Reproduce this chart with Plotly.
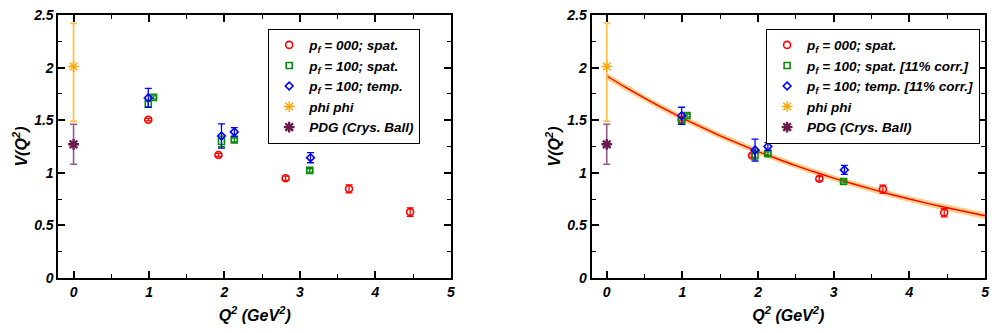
import plotly.graph_objects as go

# ---------------- data: left panel ----------------
red_x = [0.99, 1.92, 2.81, 3.65, 4.46]
red_y = [1.505, 1.170, 0.948, 0.848, 0.627]
red_e = [0.012, 0.015, 0.020, 0.038, 0.040]

grn_x = [0.99, 1.06, 1.96, 2.13, 3.13]
grn_y = [1.654, 1.717, 1.298, 1.313, 1.023]
grn_e = [0.030, 0.015, 0.050, 0.018, 0.016]

blu_x = [0.99, 1.96, 2.13, 3.14]
blu_y = [1.712, 1.350, 1.389, 1.144]
blu_e = [0.090, 0.115, 0.040, 0.048]

phi_x = [0.0]
phi_y = [2.01]
phi_ep = [0.41]
phi_em = [0.52]

pdg_x = [0.0]
pdg_y = [1.271]
pdg_e = [0.19]

# ---------------- data: right panel (corrected) ----------------
red2_x = [0.99, 1.92, 2.81, 3.65, 4.46]
red2_y = [1.505, 1.165, 0.944, 0.845, 0.622]
red2_e = [0.012, 0.015, 0.020, 0.038, 0.040]

grn2_x = [0.99, 1.06, 1.96, 2.13, 3.13]
grn2_y = [1.490, 1.545, 1.169, 1.183, 0.918]
grn2_e = [0.027, 0.014, 0.045, 0.016, 0.014]

blu2_x = [0.99, 1.96, 2.13, 3.14]
blu2_y = [1.542, 1.216, 1.251, 1.028]
blu2_e = [0.081, 0.104, 0.036, 0.043]

# fit curve
fit_x = [0.0, 0.25, 0.5, 0.75, 1.0, 1.25, 1.5, 1.75, 2.0, 2.25, 2.5, 2.75,
         3.0, 3.25, 3.5, 3.75, 4.0, 4.25, 4.5, 4.75, 5.0]
fit_y = [1.920, 1.812, 1.710, 1.612, 1.520, 1.435, 1.352, 1.276, 1.202, 1.134, 1.069, 1.008,
         0.950, 0.896, 0.845, 0.797, 0.751, 0.708, 0.668, 0.630, 0.592]
fit_hi = [1.952, 1.843, 1.740, 1.642, 1.549, 1.463, 1.380, 1.304, 1.230, 1.162, 1.097, 1.036,
          0.978, 0.924, 0.873, 0.826, 0.780, 0.738, 0.698, 0.660, 0.623]
fit_lo = [1.888, 1.781, 1.680, 1.582, 1.491, 1.407, 1.324, 1.248, 1.174, 1.106, 1.041, 0.980,
          0.922, 0.868, 0.817, 0.768, 0.722, 0.678, 0.638, 0.600, 0.561]

x_ticks = [0, 1, 2, 3, 4, 5]
y_ticks = [0, 0.5, 1, 1.5, 2, 2.5]
y_tick_text = ["0", "0.5", "1", "1.5", "2", "2.5"]

labels_left = ["p<sub>f</sub> = 000; spat.", "p<sub>f</sub> = 100; spat.",
               "p<sub>f</sub> = 100; temp.", "phi phi", "PDG (Crys. Ball)"]
labels_right = ["p<sub>f</sub> = 000; spat.", "p<sub>f</sub> = 100; spat. [11% corr.]",
                "p<sub>f</sub> = 100; temp. [11% corr.]", "phi phi", "PDG (Crys. Ball)"]

RED = "#ff0000"
GRN = "#0a8a0a"
BLU = "#0000ff"
ORG = "#ffa500"
PUR = "#6a1a4e"

fig = go.Figure()


def add_points(x, y, e, name, color, symbol, size, lw, xa, ya, legend, ecolor=None,
               em=None, ethick=1.3):
    err = dict(type="data", array=e, color=ecolor or color, thickness=ethick, width=3.5)
    if em is not None:
        err["arrayminus"] = em
        err["symmetric"] = False
    fig.add_trace(go.Scatter(
        x=x, y=y, mode="markers", name=name,
        marker=dict(symbol=symbol, size=size, color=color,
                    line=dict(color=color, width=lw)),
        error_y=err, xaxis=xa, yaxis=ya, legend=legend))


# right panel band + fit (drawn first so that points are on top)
fig.add_trace(go.Scatter(x=fit_x, y=fit_hi, mode="lines", line=dict(width=0, shape="spline"),
                         showlegend=False, hoverinfo="skip", xaxis="x2", yaxis="y2"))
fig.add_trace(go.Scatter(x=fit_x, y=fit_lo, mode="lines", line=dict(width=0, shape="spline"),
                         fill="tonexty", fillcolor="rgba(255,180,70,0.65)",
                         showlegend=False, hoverinfo="skip", xaxis="x2", yaxis="y2"))
fig.add_trace(go.Scatter(x=fit_x, y=fit_y, mode="lines", line=dict(color=RED, width=1.4, shape="spline"),
                         showlegend=False, hoverinfo="skip", xaxis="x2", yaxis="y2"))

for (xa, ya, leg, labs, data) in [
    ("x", "y", "legend", labels_left,
     [(red_x, red_y, red_e), (grn_x, grn_y, grn_e), (blu_x, blu_y, blu_e)]),
    ("x2", "y2", "legend2", labels_right,
     [(red2_x, red2_y, red2_e), (grn2_x, grn2_y, grn2_e), (blu2_x, blu2_y, blu2_e)]),
]:
    add_points(*data[0], labs[0], RED, "circle-open", 7, 1.6, xa, ya, leg)
    add_points(*data[1], labs[1], GRN, "square-open", 6, 1.6, xa, ya, leg)
    add_points(*data[2], labs[2], BLU, "diamond-open", 6, 1.6, xa, ya, leg)
    add_points(phi_x, phi_y, phi_ep, labs[3], ORG, "asterisk-open", 9, 1.4, xa, ya, leg,
               ecolor="#ffc050", em=phi_em, ethick=1.8)
    add_points(pdg_x, pdg_y, pdg_e, labs[4], PUR, "asterisk-open", 9, 2.4, xa, ya, leg,
               ecolor="#9a5a88", ethick=1.6)

FONT = "Liberation Sans, Arial, sans-serif"
tickfont = dict(family=FONT, size=14, color="black", weight="bold", style="italic")
titlefont = dict(family=FONT, size=16, color="black", weight="bold", style="italic")

xcommon = dict(range=[-0.2, 5], tickvals=x_ticks, ticks="inside", ticklen=7, tickwidth=1.5,
               tickcolor="black", showline=True, linewidth=2, linecolor="black", mirror="ticks",
               showgrid=False, zeroline=False, tickfont=tickfont, ticklabeloverflow="allow",
               minor=dict(ticks="inside", dtick=0.5, tick0=0, ticklen=4, tickwidth=1.2,
                          tickcolor="black", showgrid=False),
               title=dict(text="Q<sup>2</sup> (GeV<sup>2</sup>)", font=titlefont, standoff=11))
ycommon = dict(range=[0, 2.5], tickvals=y_ticks, ticktext=y_tick_text, ticks="inside",
               ticklen=7, tickwidth=1.5,
               tickcolor="black", showline=True, linewidth=2, linecolor="black", mirror="ticks",
               showgrid=False, zeroline=False, tickfont=tickfont, ticklabeloverflow="allow",
               minor=dict(ticks="inside", dtick=0.25, tick0=0, ticklen=4, tickwidth=1.2,
                          tickcolor="black", showgrid=False),
               title=dict(text="V(Q<sup>2</sup>)", font=titlefont, standoff=2))

legfont = dict(family=FONT, size=13.5, color="black", weight="bold", style="italic")
legcommon = dict(bgcolor="white", bordercolor="black", borderwidth=1, font=legfont,
                 xanchor="right", yanchor="top", tracegroupgap=0, itemwidth=30,
                 traceorder="normal")

fig.update_layout(
    width=995, height=333,
    margin=dict(l=0, r=0, t=0, b=0),
    paper_bgcolor="white", plot_bgcolor="white",
    xaxis=dict(domain=[0.059, 0.455], anchor="y", **xcommon),
    yaxis=dict(domain=[0.148, 0.978], anchor="x", **ycommon),
    xaxis2=dict(domain=[0.597, 0.994], anchor="y2", **xcommon),
    yaxis2=dict(domain=[0.148, 0.978], anchor="x2", **ycommon),
    legend=dict(x=0.424, y=0.935, **legcommon),
    legend2=dict(x=0.989, y=0.935, **legcommon),
    showlegend=True,
)

fig.write_html("out.html", config={"displayModeBar": False},
               post_script="document.body.style.margin='0';")
